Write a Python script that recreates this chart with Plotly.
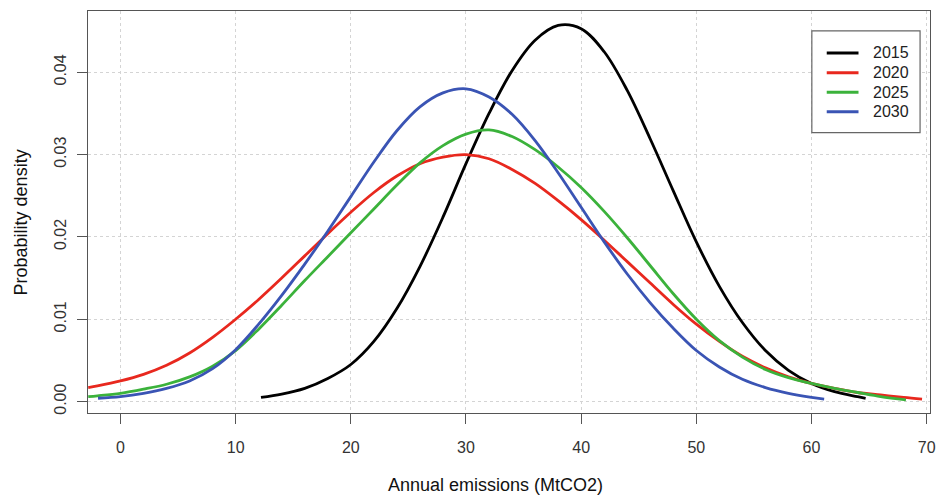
import plotly.graph_objects as go

# Probability density curves of annual emissions (MtCO2) by year
x_2015 = [12.2, 14, 16, 18, 20, 22, 24, 26, 28, 30, 32, 34, 36, 38, 40, 42, 44, 46, 48,
          50, 52, 54, 56, 58, 60, 62, 64, 64.7]
y_2015 = [0.0005, 0.0009, 0.0016, 0.0028, 0.0045, 0.0073, 0.0113, 0.0164, 0.0224, 0.0289,
          0.0350, 0.0402, 0.0439, 0.0457, 0.0453, 0.0425, 0.0378, 0.0319, 0.0256, 0.0194,
          0.0140, 0.0096, 0.0062, 0.0038, 0.0022, 0.0012, 0.0006, 0.0004]

x_2020 = [-2.8, -2, 0, 2, 4, 6, 8, 10, 12, 14, 16, 18, 20, 22, 24, 26, 28, 30, 32, 34,
          36, 38, 40, 42, 44, 46, 48, 50, 52, 54, 56, 58, 60, 62, 64, 66, 68, 69.6]
y_2020 = [0.0017, 0.0019, 0.0025, 0.0033, 0.0044, 0.0059, 0.0078, 0.0100, 0.0124, 0.0150,
          0.0177, 0.0204, 0.0230, 0.0254, 0.0274, 0.0289, 0.0297, 0.0300, 0.0295, 0.0282,
          0.0265, 0.0244, 0.0221, 0.0196, 0.0170, 0.0144, 0.0118, 0.0094, 0.0073, 0.0055,
          0.0041, 0.0030, 0.0022, 0.0016, 0.0011, 0.0008, 0.0005, 0.0003]

x_2025 = [-2.8, -2, 0, 2, 4, 6, 8, 10, 12, 14, 16, 18, 20, 22, 24, 26, 28, 30, 32, 34,
          36, 38, 40, 42, 44, 46, 48, 50, 52, 54, 56, 58, 60, 62, 64, 66, 68.2]
y_2025 = [0.0006, 0.0007, 0.0010, 0.0015, 0.0021, 0.0030, 0.0043, 0.0062, 0.0088, 0.0117,
          0.0147, 0.0176, 0.0205, 0.0234, 0.0263, 0.0290, 0.0311, 0.0325, 0.0330, 0.0322,
          0.0306, 0.0285, 0.0260, 0.0231, 0.0199, 0.0165, 0.0131, 0.0100, 0.0074, 0.0054,
          0.0039, 0.0029, 0.0022, 0.0016, 0.0011, 0.0006, 0.0002]

x_2030 = [-1.95, 0, 2, 4, 6, 8, 10, 12, 14, 16, 18, 20, 22, 24, 26, 28, 30, 32, 34, 36,
          38, 40, 42, 44, 46, 48, 50, 52, 54, 56, 58, 60, 61.1]
y_2030 = [0.0004, 0.0006, 0.0010, 0.0016, 0.0025, 0.0040, 0.0063, 0.0094, 0.0129, 0.0167,
          0.0207, 0.0249, 0.0291, 0.0329, 0.0358, 0.0375, 0.0380, 0.0370, 0.0349, 0.0317,
          0.0278, 0.0236, 0.0194, 0.0155, 0.0120, 0.0089, 0.0062, 0.0042, 0.0027, 0.0017,
          0.0010, 0.0005, 0.0003]

series = [
    ("2015", x_2015, y_2015, "#000000"),
    ("2020", x_2020, y_2020, "#E8281E"),
    ("2025", x_2025, y_2025, "#3BB23B"),
    ("2030", x_2030, y_2030, "#3A54B4"),
]

x_ticks = [0, 10, 20, 30, 40, 50, 60, 70]
y_ticks = [0.00, 0.01, 0.02, 0.03, 0.04]
y_tick_labels = ["0.00", "0.01", "0.02", "0.03", "0.04"]

FONT = "Liberation Sans, Arial, sans-serif"

fig = go.Figure()
for name, xs, ys, color in series:
    fig.add_trace(go.Scatter(
        x=xs, y=ys, name=name, mode="lines", showlegend=False,
        line=dict(color=color, width=2.8, shape="spline", smoothing=1.0),
    ))

W, H = 946, 496
L, R, T, B = 88, 10, 10, 83
pw, ph = W - L - R, H - T - B


def px_to_paper(px, py):
    return (px - L) / pw, (H - B - py) / ph


axis_common = dict(
    showline=True, mirror=True, linecolor="#555555", linewidth=1.3,
    ticks="outside", ticklen=10, tickwidth=1, tickcolor="#555555",
    showgrid=True, gridcolor="#d4d4d4", griddash="dot", gridwidth=1,
    zeroline=False, tickfont=dict(family=FONT, size=16, color="#333333"),
)

fig.update_xaxes(range=[-2.82, 70.29], tickvals=x_ticks, ticklabelstandoff=10,
                 **axis_common)
fig.update_yaxes(range=[-0.00139, 0.04745], tickvals=y_ticks, ticktext=y_tick_labels,
                 tickangle=-90, ticklabelstandoff=4, **axis_common)

shapes = []
annotations = []

# Legend box in the upper right, R style: line key followed by label
bx0, by0 = px_to_paper(817, 30)
bx1, by1 = px_to_paper(926, 132)
shapes.append(dict(type="rect", xref="paper", yref="paper", x0=bx0, y0=by1, x1=bx1, y1=by0,
                   line=dict(color="#666666", width=1.2), fillcolor="white", layer="above"))
row_y = [52, 72, 91.5, 111]
for (name, _, _, color), ry in zip(series, row_y):
    lx0, ly = px_to_paper(832, ry)
    lx1, _ = px_to_paper(864, ry)
    shapes.append(dict(type="line", xref="paper", yref="paper", x0=lx0, y0=ly, x1=lx1, y1=ly,
                       line=dict(color=color, width=3), layer="above"))
    tx, _ = px_to_paper(877, ry)
    annotations.append(dict(text=name, x=tx, y=ly, xref="paper", yref="paper",
                            showarrow=False, xanchor="left", yanchor="middle",
                            font=dict(family=FONT, size=16, color="#222222")))

xt = px_to_paper(498, 485)
yt = px_to_paper(21.5, 222)
annotations += [
    dict(text="Annual emissions (MtCO2)", x=xt[0], y=xt[1], xref="paper", yref="paper",
         showarrow=False, xanchor="center", yanchor="middle",
         font=dict(family=FONT, size=18, color="#111111")),
    dict(text="Probability density", x=yt[0], y=yt[1], xref="paper", yref="paper",
         showarrow=False, xanchor="center", yanchor="middle", textangle=-90,
         font=dict(family=FONT, size=18, color="#111111")),
]

fig.update_layout(
    width=W, height=H,
    margin=dict(l=L, r=R, t=T, b=B),
    paper_bgcolor="white", plot_bgcolor="white",
    font=dict(family=FONT, color="#222222"),
    showlegend=False,
    shapes=shapes,
    annotations=annotations,
)

fig.write_html("out.html")
